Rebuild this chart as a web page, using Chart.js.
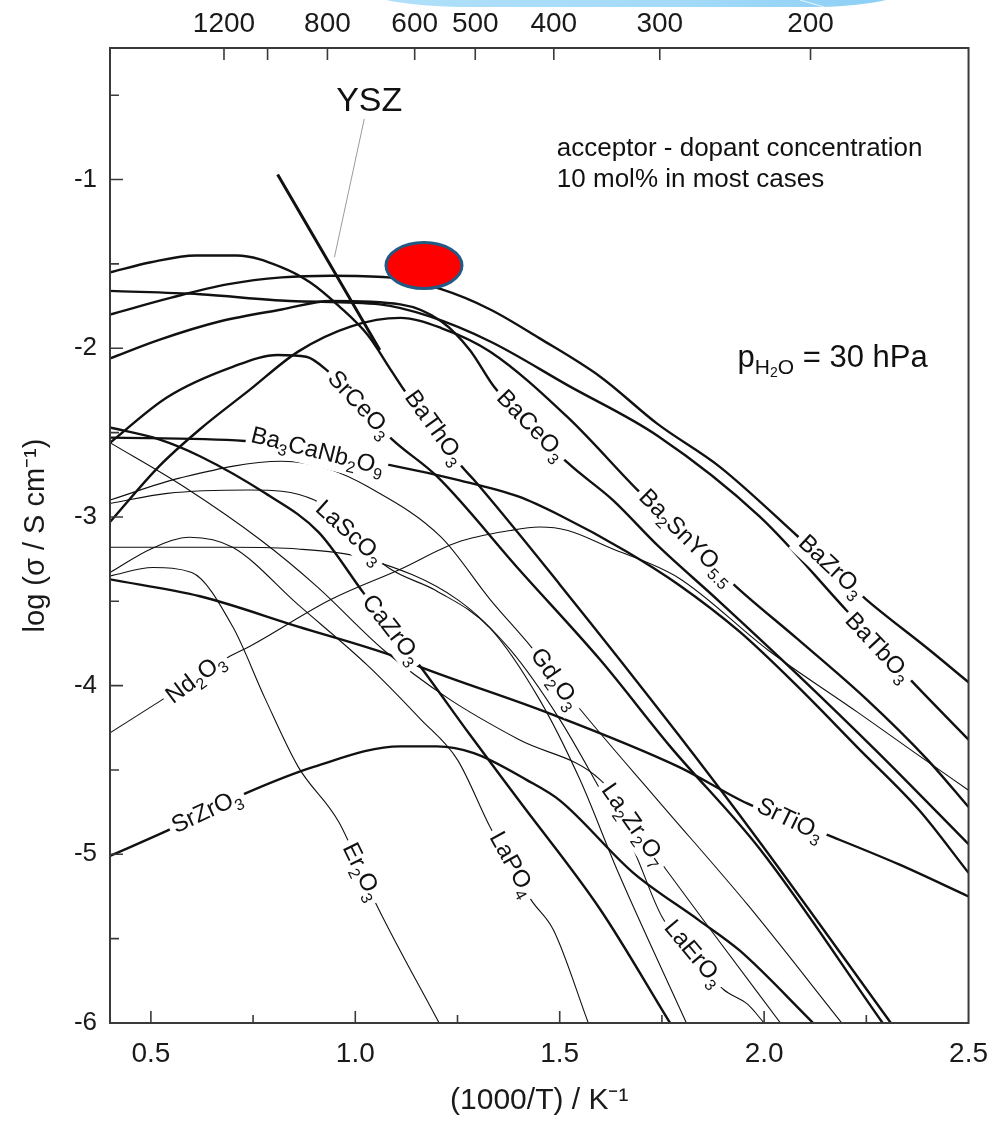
<!DOCTYPE html>
<html>
<head>
<meta charset="utf-8">
<title>Proton conductivity of acceptor-doped oxides</title>
<script src="https://cdn.jsdelivr.net/npm/chart.js@4.4.1/dist/chart.umd.min.js"></script>
<style>
  html, body { margin: 0; padding: 0; background: #fff; }
  canvas { display: block; }
</style>
</head>
<body>
<canvas id="chart" width="1002" height="1127"></canvas>
<script>
// axis ticks
const xTicks = [0.5, 1.0, 1.5, 2.0, 2.5];
const yTicks = [-1, -2, -3, -4, -5, -6];
const topTempsC = [1200, 1000, 800, 600, 500, 400, 300, 200];
const topLabels = ['1200', '', '800', '600', '500', '400', '300', '200'];

// curves, x = 1000/T (K^-1), y = log(sigma / S cm^-1)
const YSZ_x = [0.81, 1.06];
const YSZ_y = [-0.97, -2.01];

const BaZrO3_x = [0.40, 0.55, 0.69, 0.82, 0.94, 1.08, 1.21, 1.33, 1.45, 1.60, 1.74, 1.89, 2.08, 2.25, 2.40, 2.50];
const BaZrO3_y = [-1.80, -1.70, -1.62, -1.58, -1.57, -1.58, -1.65, -1.77, -1.94, -2.17, -2.45, -2.70, -3.11, -3.49, -3.78, -3.98];

const BaTbO3_x = [0.40, 0.62, 0.84, 1.06, 1.18, 1.33, 1.52, 1.74, 1.99, 2.20, 2.36, 2.50];
const BaTbO3_y = [-1.66, -1.68, -1.72, -1.74, -1.81, -1.96, -2.22, -2.52, -3.00, -3.55, -3.97, -4.32];

const BaCeO3_x = [0.40, 0.52, 0.67, 0.82, 0.94, 1.11, 1.21, 1.28, 1.34, 1.52, 1.63, 1.74, 1.89, 2.08, 2.28, 2.50];
const BaCeO3_y = [-2.06, -1.95, -1.84, -1.77, -1.72, -1.74, -1.84, -2.01, -2.23, -2.68, -2.90, -3.17, -3.50, -3.93, -4.40, -4.94];

const Ba2SnYO55_x = [0.40, 0.52, 0.62, 0.74, 0.86, 0.99, 1.11, 1.21, 1.33, 1.52, 1.69, 1.93, 2.08, 2.25, 2.40, 2.50];
const Ba2SnYO55_y = [-3.03, -2.70, -2.48, -2.25, -2.02, -1.87, -1.82, -1.88, -2.02, -2.41, -2.84, -3.41, -3.72, -4.08, -4.44, -4.72];

const Ba3CaNb2O9_x = [0.40, 0.73, 1.10, 1.25, 1.40, 1.50, 1.66, 1.79, 1.94, 2.08, 2.23, 2.38, 2.50];
const Ba3CaNb2O9_y = [-2.53, -2.55, -2.70, -2.78, -2.88, -2.99, -3.20, -3.40, -3.68, -4.00, -4.37, -4.74, -5.11];

const BaThO3_x = [0.40, 0.50, 0.61, 0.71, 0.82, 0.89, 0.96, 1.03, 1.09, 1.12, 1.26, 1.29, 1.50, 1.79, 1.99, 2.31];
const BaThO3_y = [-1.55, -1.49, -1.45, -1.45, -1.52, -1.61, -1.75, -1.92, -2.14, -2.25, -2.70, -2.78, -3.40, -4.29, -4.93, -6.00];

const SrCeO3_x = [0.40, 0.54, 0.70, 0.81, 0.88, 0.93, 1.09, 1.20, 1.40, 1.60, 1.77, 1.99, 2.29];
const SrCeO3_y = [-2.56, -2.29, -2.11, -2.04, -2.05, -2.13, -2.54, -2.76, -3.31, -3.85, -4.36, -4.97, -6.00];

const CaZrO3_x = [0.40, 0.52, 0.62, 0.78, 0.91, 1.02, 1.16, 1.28, 1.40, 1.60, 1.77];
const CaZrO3_y = [-2.47, -2.54, -2.64, -2.86, -3.09, -3.45, -3.89, -4.29, -4.68, -5.33, -6.00];

const SrTiO3_x = [0.40, 0.62, 0.86, 1.10, 1.16, 1.47, 1.79, 1.96, 2.17, 2.33, 2.50];
const SrTiO3_y = [-3.37, -3.47, -3.65, -3.83, -3.89, -4.16, -4.48, -4.70, -4.90, -5.06, -5.25];

const SrZrO3_x = [0.40, 0.54, 0.73, 0.90, 1.11, 1.20, 1.29, 1.42, 1.50, 1.68, 1.84, 1.94, 2.12];
const SrZrO3_y = [-5.01, -4.86, -4.64, -4.48, -4.36, -4.36, -4.40, -4.56, -4.68, -5.11, -5.39, -5.57, -6.00];

const Nd2O3_x = [0.40, 0.53, 0.69, 0.74, 0.94, 1.11, 1.25, 1.38, 1.45, 1.52, 1.62, 1.79, 2.01, 2.23, 2.37, 2.50];
const Nd2O3_y = [-4.28, -4.08, -3.83, -3.77, -3.49, -3.31, -3.15, -3.08, -3.06, -3.08, -3.18, -3.36, -3.79, -4.16, -4.40, -4.62];

const Gd2O3_x = [0.40, 0.57, 0.82, 0.94, 1.03, 1.21, 1.33, 1.43, 1.55, 1.74, 1.96, 2.19];
const Gd2O3_y = [-2.90, -2.77, -2.67, -2.72, -2.82, -3.12, -3.49, -3.77, -4.14, -4.68, -5.30, -6.00];

const LaScO3_x = [0.40, 0.54, 0.74, 0.90, 1.08, 1.20, 1.33, 1.45, 1.55, 1.64, 1.81];
const LaScO3_y = [-2.92, -2.86, -2.84, -2.90, -3.30, -3.44, -3.66, -4.08, -4.56, -5.09, -6.00];

const LaErO3_x = [0.40, 0.70, 0.86, 1.03, 1.25, 1.38, 1.50, 1.60, 1.68, 1.75, 1.90, 1.96, 2.00];
const LaErO3_y = [-3.18, -3.18, -3.19, -3.25, -3.49, -3.79, -4.20, -4.62, -4.97, -5.37, -5.80, -5.89, -6.00];

const Er2O3_x = [0.40, 0.505, 0.60, 0.70, 0.78, 0.86, 0.96, 1.05, 1.205];
const Er2O3_y = [-3.35, -3.30, -3.33, -3.65, -4.08, -4.48, -4.81, -5.29, -6.00];

const LaPO4_x = [0.40, 0.50, 0.595, 0.70, 0.86, 1.03, 1.16, 1.25, 1.33, 1.43, 1.485, 1.57];
const LaPO4_y = [-3.33, -3.19, -3.12, -3.18, -3.52, -3.88, -4.20, -4.44, -4.84, -5.27, -5.45, -6.00];

const La2Zr2O7_x = [0.40, 0.58, 0.77, 0.905, 1.07, 1.23, 1.40, 1.60, 1.76, 1.87, 2.04];
const La2Zr2O7_y = [-2.56, -2.82, -3.14, -3.41, -3.79, -4.08, -4.32, -4.56, -5.09, -5.45, -6.00];

// inline curve labels: name, position (data units), rotation in degrees
const labelNames = ['SrCeO3', 'BaThO3', 'BaCeO3', 'Ba3CaNb2O9', 'Ba2SnYO5.5', 'BaZrO3', 'BaTbO3', 'LaScO3', 'CaZrO3',
                    'Nd2O3', 'SrZrO3', 'Er2O3', 'Gd2O3', 'LaPO4', 'La2Zr2O7', 'LaErO3', 'SrTiO3'];
const labelX = [1.01, 1.193, 1.429, 0.907, 1.81, 2.163, 2.278, 0.985, 1.088, 0.61, 0.637, 1.015, 1.488, 1.383, 1.68, 1.827, 2.063];
const labelY = [-2.335, -2.471, -2.459, -2.613, -3.123, -3.295, -3.776, -3.094, -3.669, -3.96, -4.748, -5.104, -3.96, -5.06, -4.826, -5.59, -4.798];
const labelAngle = [47, 54, 46, 14, 45, 43, 47, 42, 52, -37, -25, 64, 55, 61, 55, 50, 26];

// YSZ label and its leader line
const yszLabel = { x: 1.034, y: -0.54 };
const yszLeaderX = [1.022, 0.949];
const yszLeaderY = [-0.64, -1.46];

// highlight marker
const markX = 1.168, markY = -1.51;

const FONT = "'Liberation Sans', Arial, Helvetica, sans-serif";
Chart.defaults.font.family = FONT;
Chart.defaults.color = '#1a1a1a';

const thick = 2.4, thin = 1.1;
const curves = [
  [YSZ_x, YSZ_y, 3],
  [BaZrO3_x, BaZrO3_y, thick],
  [BaTbO3_x, BaTbO3_y, thick],
  [BaCeO3_x, BaCeO3_y, thick],
  [Ba2SnYO55_x, Ba2SnYO55_y, thick],
  [Ba3CaNb2O9_x, Ba3CaNb2O9_y, thick],
  [BaThO3_x, BaThO3_y, thick],
  [SrCeO3_x, SrCeO3_y, thick],
  [CaZrO3_x, CaZrO3_y, thick],
  [SrTiO3_x, SrTiO3_y, thick],
  [SrZrO3_x, SrZrO3_y, thick],
  [Nd2O3_x, Nd2O3_y, thin],
  [Gd2O3_x, Gd2O3_y, thin],
  [LaScO3_x, LaScO3_y, thin],
  [LaErO3_x, LaErO3_y, thin],
  [Er2O3_x, Er2O3_y, thin],
  [LaPO4_x, LaPO4_y, thin],
  [La2Zr2O7_x, La2Zr2O7_y, thin]
];

function series(xs, ys) {
  return xs.map((v, i) => ({ x: v, y: ys[i] }));
}

const datasets = curves.map(c => ({
  data: series(c[0], c[1]),
  showLine: true,
  borderColor: '#111',
  borderWidth: c[2],
  pointRadius: 0,
  fill: false,
  cubicInterpolationMode: 'monotone'
}));

// draw a formula with its digits as subscripts, centred on (0,0)
function measureChem(ctx, name, size) {
  const big = size + 'px ' + FONT;
  const small = Math.round(size * 0.66) + 'px ' + FONT;
  const parts = name.split(/(\d+(?:\.\d+)?)/).filter(s => s).map(s => ({ t: s, sub: /^\d/.test(s) }));
  let w = 0;
  parts.forEach(p => {
    ctx.font = p.sub ? small : big;
    p.w = ctx.measureText(p.t).width;
    w += p.w;
  });
  return { parts, w, big, small };
}

const decoPlugin = {
  id: 'deco',
  beforeDraw(chart) {
    const ctx = chart.ctx;
    // slide decoration at the top edge
    ctx.save();
    const g = ctx.createLinearGradient(388, 0, 885, 0);
    g.addColorStop(0, '#b0e0f9');
    g.addColorStop(0.6, '#a4daf8');
    g.addColorStop(1, '#8ccff5');
    ctx.fillStyle = g;
    ctx.beginPath();
    ctx.moveTo(386, 0);
    ctx.quadraticCurveTo(420, 7, 470, 7);
    ctx.lineTo(820, 7);
    ctx.quadraticCurveTo(860, 6, 886, 0);
    ctx.closePath();
    ctx.fill();
    ctx.strokeStyle = 'rgba(255,255,255,0.8)';
    ctx.lineWidth = 1;
    ctx.beginPath();
    ctx.moveTo(800, 0);
    ctx.lineTo(824, 7);
    ctx.stroke();
    ctx.restore();
  }
};

const labelPlugin = {
  id: 'labels',
  afterDatasetsDraw(chart) {
    const { ctx, scales: { x, y } } = chart;
    ctx.save();
    ctx.textBaseline = 'middle';

    labelNames.forEach((name, i) => {
      const cx = x.getPixelForValue(labelX[i]);
      const cy = y.getPixelForValue(labelY[i]);
      const m = measureChem(ctx, name, 24);
      ctx.save();
      ctx.translate(cx, cy);
      ctx.rotate(labelAngle[i] * Math.PI / 180);
      ctx.fillStyle = '#fff';
      ctx.fillRect(-m.w / 2 - 4, -12, m.w + 8, 27);
      ctx.fillStyle = '#111';
      let px = -m.w / 2;
      m.parts.forEach(p => {
        ctx.font = p.sub ? m.small : m.big;
        ctx.fillText(p.t, px, p.sub ? 8 : 0);
        px += p.w;
      });
      ctx.restore();
    });

    // YSZ leader + label
    ctx.strokeStyle = '#9a9a9a';
    ctx.lineWidth = 1;
    ctx.beginPath();
    ctx.moveTo(x.getPixelForValue(yszLeaderX[0]), y.getPixelForValue(yszLeaderY[0]));
    ctx.lineTo(x.getPixelForValue(yszLeaderX[1]), y.getPixelForValue(yszLeaderY[1]));
    ctx.stroke();
    ctx.fillStyle = '#111';
    ctx.font = '34px ' + FONT;
    ctx.textAlign = 'center';
    ctx.fillText('YSZ', x.getPixelForValue(yszLabel.x), y.getPixelForValue(yszLabel.y));

    // notes
    ctx.textAlign = 'left';
    ctx.font = '26px ' + FONT;
    const nx = x.getPixelForValue(1.493);
    ctx.fillText('acceptor - dopant concentration', nx, y.getPixelForValue(-0.82));
    ctx.fillText('10 mol% in most cases', nx, y.getPixelForValue(-1.0));

    // p_H2O = 30 hPa
    let px = x.getPixelForValue(1.935);
    const py = y.getPixelForValue(-2.06);
    const pieces = [['p', 31, 0], ['H', 21, 10], ['2', 14, 15], ['O', 21, 10], [' = 30 hPa', 31, 0]];
    pieces.forEach(pc => {
      ctx.font = pc[1] + 'px ' + FONT;
      ctx.fillText(pc[0], px, py + pc[2]);
      px += ctx.measureText(pc[0]).width;
    });

    // red highlight
    ctx.beginPath();
    ctx.ellipse(x.getPixelForValue(markX), y.getPixelForValue(markY), 38, 23, 0, 0, Math.PI * 2);
    ctx.fillStyle = '#ff0000';
    ctx.fill();
    ctx.lineWidth = 3;
    ctx.strokeStyle = '#1f5b85';
    ctx.stroke();
    ctx.restore();
  }
};

// frame with inward ticks
const framePlugin = {
  id: 'frame',
  afterDraw(chart) {
    const { ctx, chartArea: a, scales } = chart;
    ctx.save();
    ctx.strokeStyle = '#3a3a3a';
    ctx.lineWidth = 2;
    ctx.strokeRect(a.left, a.top, a.right - a.left, a.bottom - a.top);
    ctx.lineWidth = 1.6;
    ctx.beginPath();
    for (let k = 2; k <= 9; k++) {
      const v = k * 0.25;
      const p = scales.x.getPixelForValue(v);
      const len = k % 2 === 0 ? 12 : 8;
      ctx.moveTo(p, a.bottom);
      ctx.lineTo(p, a.bottom - len);
    }
    for (let k = 1; k <= 11; k++) {
      const v = -k * 0.5;
      const p = scales.y.getPixelForValue(v);
      const len = k % 2 === 0 ? 13 : 9;
      ctx.moveTo(a.left, p);
      ctx.lineTo(a.left + len, p);
    }
    topTempsC.forEach(t => {
      const p = scales.x.getPixelForValue(1000 / (t + 273.15));
      ctx.moveTo(p, a.top);
      ctx.lineTo(p, a.top + 12);
    });
    ctx.stroke();
    ctx.restore();
  }
};

new Chart(document.getElementById('chart'), {
  type: 'scatter',
  data: { datasets: datasets },
  options: {
    responsive: false,
    animation: false,
    layout: { padding: { left: 0, right: 30, top: 0, bottom: 0 } },
    plugins: { legend: { display: false }, tooltip: { enabled: false } },
    scales: {
      x: {
        type: 'linear',
        position: 'bottom',
        min: 0.4,
        max: 2.5,
        grid: { display: false, drawTicks: false },
        border: { display: false },
        afterBuildTicks: s => { s.ticks = xTicks.map(v => ({ value: v })); },
        afterFit: s => { s.height = 104; },
        ticks: {
          autoSkip: false,
          maxRotation: 0,
          padding: 14,
          font: { size: 28 },
          color: '#1a1a1a',
          callback: v => v.toFixed(1)
        },
        title: {
          display: true,
          text: '(1000/T) / K⁻¹',
          font: { size: 30 },
          color: '#1a1a1a',
          padding: { top: 0, bottom: 8 }
        }
      },
      xTop: {
        type: 'linear',
        position: 'top',
        min: 0.4,
        max: 2.5,
        grid: { display: false, drawTicks: false },
        border: { display: false },
        afterBuildTicks: s => { s.ticks = topTempsC.map(t => ({ value: 1000 / (t + 273.15) })); },
        afterFit: s => { s.height = 48; },
        ticks: {
          autoSkip: false,
          maxRotation: 0,
          padding: 7,
          font: { size: 28 },
          color: '#1a1a1a',
          callback: (v, i) => topLabels[i]
        }
      },
      y: {
        type: 'linear',
        min: -6,
        max: -0.22,
        grid: { display: false, drawTicks: false },
        border: { display: false },
        afterBuildTicks: s => { s.ticks = yTicks.map(v => ({ value: v })); },
        afterFit: s => { s.width = 110; },
        ticks: {
          autoSkip: false,
          padding: 13,
          font: { size: 26 },
          color: '#1a1a1a',
          callback: v => String(v)
        },
        title: {
          display: true,
          text: 'log (σ / S cm⁻¹)',
          font: { size: 29 },
          color: '#1a1a1a',
          padding: { top: 19, bottom: 0 }
        }
      }
    }
  },
  plugins: [decoPlugin, labelPlugin, framePlugin]
});
</script>
</body>
</html>
